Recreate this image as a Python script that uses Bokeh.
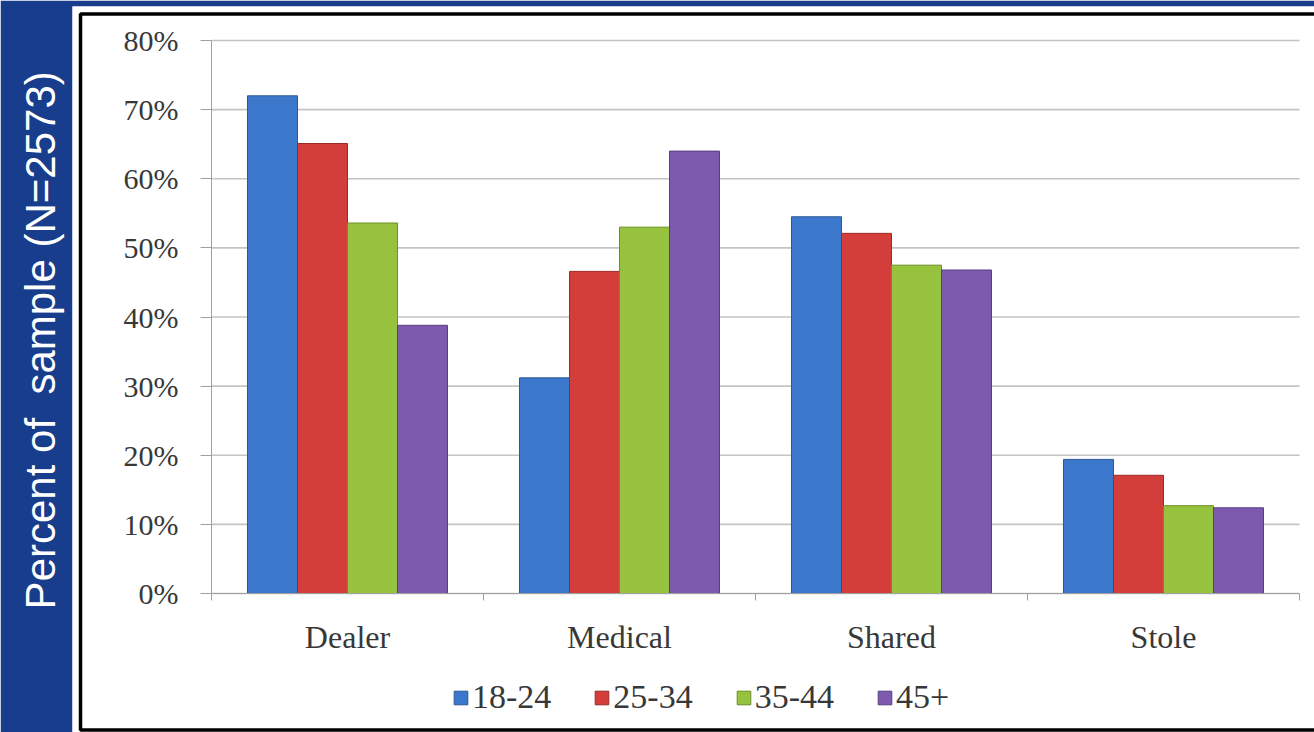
from bokeh.plotting import figure
from bokeh.models import (ColumnDataSource, Range1d, FixedTicker, PrintfTickFormatter,
                          Legend, LegendItem, BoxAnnotation, Title)
from bokeh.embed import file_html
from bokeh.resources import INLINE

# ---- data ----
categories = ["Dealer", "Medical", "Shared", "Stole"]
age_groups = ["18-24", "25-34", "35-44", "45+"]
pct_18_24 = [72.0, 31.2, 54.5, 19.4]
pct_25_34 = [65.1, 46.6, 52.1, 17.1]
pct_35_44 = [53.6, 53.0, 47.5, 12.7]
pct_45_plus = [38.8, 64.0, 46.8, 12.4]
y_ticks = [0, 10, 20, 30, 40, 50, 60, 70, 80]
y_label = "Percent of\u00a0 sample (N=2573)"

series = [pct_18_24, pct_25_34, pct_35_44, pct_45_plus]
fills = ["#3b78cc", "#d33d3a", "#97c23d", "#7d5aae"]
edges = ["#2a5795", "#9c2a28", "#6c8f28", "#58407e"]

BG = "#183d8c"
FONT = "Liberation Serif"
TXT = "#383838"
AXC = "#a0a0a0"

# ---- layout geometry (pixels) ----
W, H = 1314, 732
PANEL_L, PANEL_T = 72, 6          # white panel = plot frame
AX_L, AX_R, AX_T, AX_B = 211, 1299, 40, 593   # chart area inside the panel
n = len(categories)
px_x = (AX_R - AX_L) / n           # pixels per category
px_y = (AX_B - AX_T) / 80.0        # pixels per percent

x_range = Range1d(-(AX_L - PANEL_L) / px_x, n + (W - AX_R) / px_x)
y_range = Range1d(-(H - AX_B) / px_y, 80 + (AX_T - PANEL_T) / px_y)

def dx(px):
    return (px - AX_L) / px_x

def dy(py):
    return (AX_B - py) / px_y

p = figure(width=W, height=H, output_backend="svg", toolbar_location=None,
           title_location=None, x_range=x_range, y_range=y_range,
           min_border_left=PANEL_L, min_border_right=0, min_border_top=PANEL_T,
           min_border_bottom=0, border_fill_color=BG, background_fill_color="white",
           outline_line_color=None)
p.grid.visible = False

# black frame line of the white panel
p.add_layout(BoxAnnotation(left=dx(80), right=dx(1322), top=dy(13.5), bottom=dy(729.5),
                           fill_alpha=0.0, line_color="black", line_alpha=1.0,
                           line_width=3.5, level="underlay"))

# horizontal grid lines
p.segment(x0=[0] * len(y_ticks), x1=[n] * len(y_ticks), y0=y_ticks, y1=y_ticks,
          line_color="#c4c4c4", line_width=1.6, level="underlay")

bar_w = 50 / 272
offsets = [-1.5 * bar_w, -0.5 * bar_w, 0.5 * bar_w, 1.5 * bar_w]
renderers = []
for vals, off, fc, ec in zip(series, offsets, fills, edges):
    src = ColumnDataSource(dict(x=[i + 0.5 + off for i in range(n)], top=vals))
    r = p.vbar(x="x", top="top", width=bar_w, bottom=0, source=src,
               fill_color=fc, line_color=ec, line_width=1)
    renderers.append(r)

# y axis (drawn at x = 0 inside the panel)
yax = p.yaxis[0]
yax.fixed_location = 0
yax.bounds = (y_ticks[0], y_ticks[-1])
yax.ticker = FixedTicker(ticks=y_ticks)
yax.formatter = PrintfTickFormatter(format="%d%%")
yax.axis_line_color = AXC
yax.major_tick_line_color = AXC
yax.major_tick_out = 11
yax.major_tick_in = 0
yax.minor_tick_line_color = None
yax.major_label_standoff = 22
yax.major_label_text_font = FONT
yax.major_label_text_font_size = "30px"
yax.major_label_text_color = TXT

# x axis (drawn at y = 0): labels at centres, ticks at boundaries
centres = [i + 0.5 for i in range(n)]
bounds = [float(i) for i in range(n + 1)]
xax = p.xaxis[0]
xax.fixed_location = 0
xax.bounds = (0, n)
xax.ticker = FixedTicker(ticks=centres, minor_ticks=bounds)
xax.major_label_overrides = {c: name for c, name in zip(centres, categories)}
xax.axis_line_color = AXC
xax.major_tick_line_color = None
xax.major_tick_out = 0
xax.major_tick_in = 0
xax.minor_tick_line_color = AXC
xax.minor_tick_out = 7
xax.minor_tick_in = 0
xax.major_label_standoff = 18
xax.major_label_text_font = FONT
xax.major_label_text_font_size = "32px"
xax.major_label_text_color = TXT

# legend under the category labels
legend = Legend(items=[LegendItem(label=g, renderers=[r]) for g, r in zip(age_groups, renderers)],
                orientation="horizontal", location=(452 - PANEL_L, H - 716),
                glyph_width=17, glyph_height=17, label_standoff=3, spacing=42,
                padding=0, margin=0, border_line_color=None, background_fill_alpha=0.0,
                label_text_font=FONT, label_text_font_size="34px", label_text_color=TXT)
p.add_layout(legend, "center")

# vertical axis title in the blue band on the left (leading no-break spaces
# lift the visible text to sit where it does in the original slide)
p.add_layout(Title(text="\u00a0" * 5 + y_label, align="center", vertical_align="middle",
                   standoff=16, text_color="white", text_font="Liberation Sans",
                   text_font_style="normal", text_font_size="42px"), "left")

open("out.html", "w").write(file_html(p, INLINE))
